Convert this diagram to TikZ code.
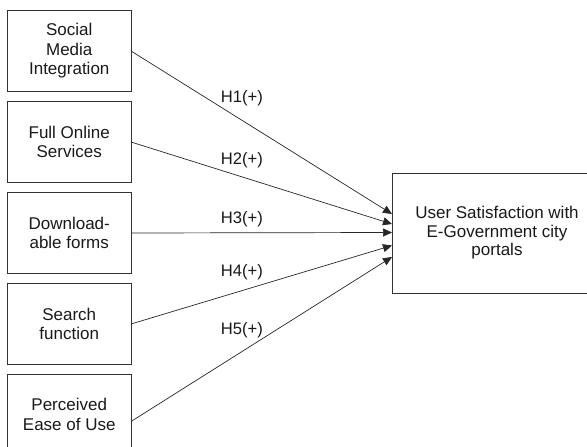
\documentclass[tikz,border=0pt]{standalone}
\usepackage{fontspec}
\setmainfont{Liberation Sans}
\usetikzlibrary{arrows.meta,positioning}

\begin{document}
\begin{tikzpicture}[x=1pt,y=-1pt,>={Triangle[length=9pt,width=8pt]},
  font=\fontsize{17}{19.5}\selectfont,
  b/.style={draw=black!80,line width=0.9pt,align=center,text=black!90,
    minimum width=123.5pt,minimum height=81pt,inner sep=2pt,outer sep=0pt},
  hyp/.style={font=\fontsize{16.6}{18}\selectfont,text=black!90,inner sep=0pt},
  link/.style={->,draw=black!85,line width=0.7pt}]
\useasboundingbox (0,0) rectangle (587,447);
% constructs
\node[b] (smi) at (69.25,51) {Social\\Media\\Integration};
\node[b,below=10pt of smi] (fos) {Full Online\\Services};
\node[b,below=10pt of fos] (dlf) {Download-\\able forms};
\node[b,below=10pt of dlf] (srch) {Search\\function};
\node[b,below=9.5pt of srch] (peou) {Perceived\\Ease of Use};
\node[b,minimum width=210pt,minimum height=120pt,
  font=\fontsize{17}{18.5}\selectfont] (sat) at (497,233)
  {User Satisfaction with\\E-Government city\\portals};
% hypotheses
\draw[link] (smi.east) -- node[hyp,pos=.425,yshift=22pt] (h1) {H1(+)} ([yshift=19pt]sat.west);
\draw[link] (fos.east) -- node[hyp,pos=.425,yshift=17pt] (h2) {H2(+)} ([yshift=9pt]sat.west);
\draw[link] (dlf.east) -- node[hyp,pos=.425,yshift=14pt] (h3) {H3(+)} ([yshift=.5pt]sat.west);
\draw[link] (srch.east) -- node[hyp,pos=.425,yshift=18pt] (h4) {H4(+)} ([yshift=-12.5pt]sat.west);
\draw[link] ([yshift=-7pt]peou.east) -- node[hyp,pos=.425,yshift=21pt] (h5) {H5(+)} ([yshift=-24pt]sat.west);
\end{tikzpicture}
\end{document}
